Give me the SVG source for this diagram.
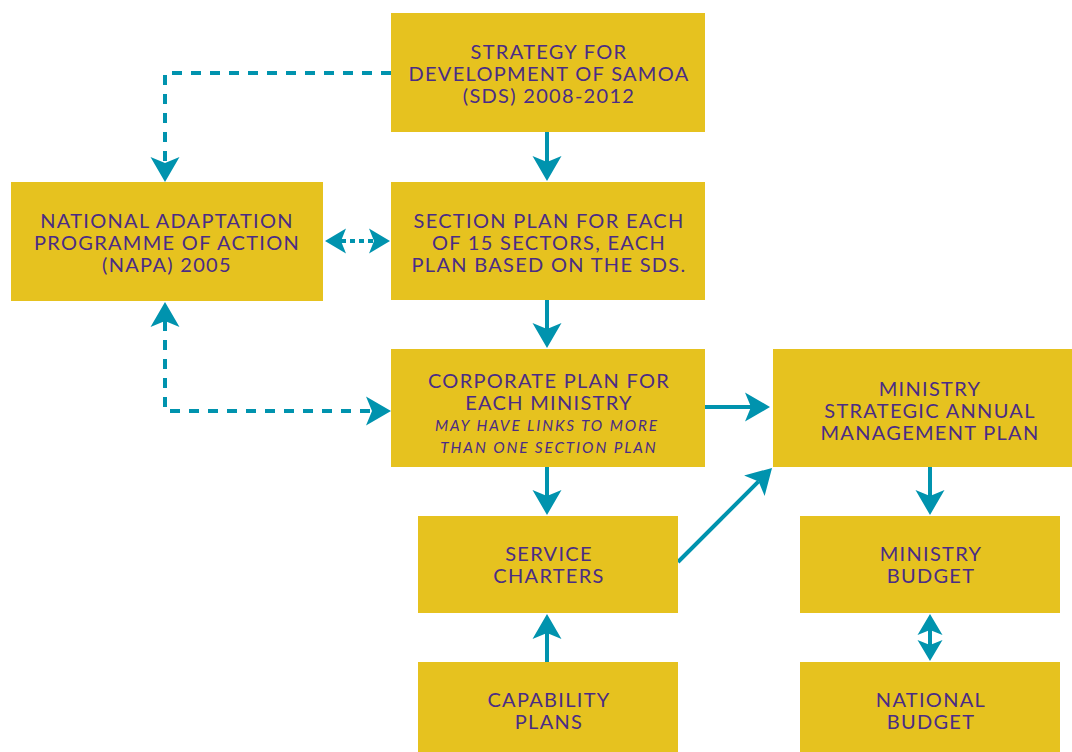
<svg xmlns="http://www.w3.org/2000/svg" width="1072" height="752" viewBox="0 0 1072 752">
  <style>
    .box { fill: #E6C21F; }
    .t { font-family: Lato, "Open Sans", sans-serif; font-size: 20px; letter-spacing: 1.3px; fill: #4A2C86; text-anchor: middle; }
    .i { font-family: Lato, "Open Sans", sans-serif; font-size: 15.3px; letter-spacing: 1.9px; font-style: italic; fill: #4A2C86; text-anchor: middle; }
    .c { fill: none; stroke: #0093AE; stroke-width: 4; }
    .dash { stroke-dasharray: 10 9; }
    .dot { stroke-dasharray: 5 4; }
  </style>
  <defs>
    <marker id="head" markerUnits="userSpaceOnUse" markerWidth="40" markerHeight="40" viewBox="-10 -20 40 40" refX="0" refY="0" orient="auto-start-reverse" overflow="visible">
      <path d="M19,0 L-6,-14.5 L0,0 L-6,14.5 Z" fill="#0093AE"/>
    </marker>
    <marker id="headS" markerUnits="userSpaceOnUse" markerWidth="40" markerHeight="40" viewBox="-10 -20 40 40" refX="0" refY="0" orient="auto-start-reverse" overflow="visible">
      <path d="M16,0 L-5,-12.5 L0,0 L-5,12.5 Z" fill="#0093AE"/>
    </marker>
  </defs>

  <rect width="1072" height="752" fill="#FFFFFF"/>

  <g id="connectors">
    <path class="c" d="M547,132 V162" marker-end="url(#head)"/>
    <path class="c" d="M547,300 V329" marker-end="url(#head)"/>
    <path class="c" d="M547,467 V496" marker-end="url(#head)"/>
    <path class="c" d="M547,662 V633" marker-end="url(#head)"/>
    <path class="c" d="M705,407 H751" marker-end="url(#head)"/>
    <path class="c" d="M678,562 L758.6,481.4" marker-end="url(#head)"/>
    <path class="c" d="M930,467 V496" marker-end="url(#head)"/>
    <path class="c" d="M930,630 V645" marker-start="url(#headS)" marker-end="url(#headS)"/>
    <path class="c dot" d="M341,241 H374" marker-start="url(#headS)" marker-end="url(#headS)"/>
    <path class="c dash" d="M391,73 H165 V163" marker-end="url(#head)"/>
    <path class="c dash" d="M165,321 V411 H372" marker-start="url(#head)" marker-end="url(#head)"/>
  </g>

  <g id="sds">
    <rect class="box" x="391" y="13" width="314" height="119"/>
    <text class="t" x="549" y="59">STRATEGY FOR</text>
    <text class="t" x="549" y="81">DEVELOPMENT OF SAMOA</text>
    <text class="t" x="549" y="103">(SDS) 2008-2012</text>
  </g>

  <g id="napa">
    <rect class="box" x="11" y="182" width="312" height="119"/>
    <text class="t" x="167" y="228">NATIONAL ADAPTATION</text>
    <text class="t" x="167" y="250">PROGRAMME OF ACTION</text>
    <text class="t" x="167" y="272">(NAPA) 2005</text>
  </g>

  <g id="section-plan">
    <rect class="box" x="391" y="182" width="314" height="118"/>
    <text class="t" x="549" y="228">SECTION PLAN FOR EACH</text>
    <text class="t" x="549" y="250">OF 15 SECTORS, EACH</text>
    <text class="t" x="549" y="272">PLAN BASED ON THE SDS.</text>
  </g>

  <g id="corporate-plan">
    <rect class="box" x="391" y="349" width="314" height="118"/>
    <text class="t" x="549" y="388">CORPORATE PLAN FOR</text>
    <text class="t" x="549" y="410">EACH MINISTRY</text>
    <text class="i" x="547" y="431">MAY HAVE LINKS TO MORE</text>
    <text class="i" x="549" y="453">THAN ONE SECTION PLAN</text>
  </g>

  <g id="ministry-plan">
    <rect class="box" x="773" y="349" width="299" height="118"/>
    <text class="t" x="930" y="396">MINISTRY</text>
    <text class="t" x="930" y="418">STRATEGIC ANNUAL</text>
    <text class="t" x="930" y="440">MANAGEMENT PLAN</text>
  </g>

  <g id="service-charters">
    <rect class="box" x="418" y="516" width="260" height="97"/>
    <text class="t" x="549" y="561">SERVICE</text>
    <text class="t" x="549" y="583">CHARTERS</text>
  </g>

  <g id="ministry-budget">
    <rect class="box" x="800" y="516" width="260" height="97"/>
    <text class="t" x="931" y="561">MINISTRY</text>
    <text class="t" x="931" y="583">BUDGET</text>
  </g>

  <g id="capability-plans">
    <rect class="box" x="418" y="662" width="260" height="90"/>
    <text class="t" x="549" y="707">CAPABILITY</text>
    <text class="t" x="549" y="729">PLANS</text>
  </g>

  <g id="national-budget">
    <rect class="box" x="800" y="662" width="260" height="90"/>
    <text class="t" x="931" y="707">NATIONAL</text>
    <text class="t" x="931" y="729">BUDGET</text>
  </g>
</svg>
